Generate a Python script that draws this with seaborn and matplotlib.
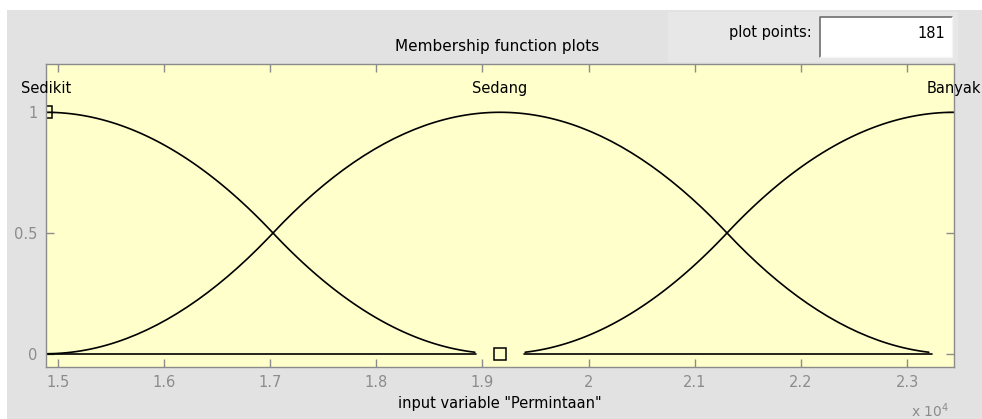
import numpy as np
import pandas as pd
import matplotlib
matplotlib.use("Agg")
import matplotlib.pyplot as plt
from matplotlib.patches import Rectangle
from matplotlib.lines import Line2D
import seaborn as sns

# ---- input variable "Permintaan" ----
var_range = [14890, 23440]
n_points = 181

mf_names = ["Sedikit", "Sedang", "Banyak"]
sedikit_params = [14890, 19165]                 # zmf [a b]
sedang_params = [14890, 19165, 19165, 23440]    # pimf [a b c d]
banyak_params = [19165, 23440]                  # smf [a b]

# portion of the universe over which each curve is traced
sedikit_span = [14890, 18940]
sedang_span = [14890, 23235]
banyak_span = [19390, 23440]

# zero-level segments along the baseline
baseline_spans = [[14890, 18940], [19390, 23235]]

# handles of the selected function (zmf corners)
handle_x = [14890, 19165]
handle_y = [1, 0]

x_ticks = [15000, 16000, 17000, 18000, 19000, 20000, 21000, 22000, 23000]
x_tick_labels = ["1.5", "1.6", "1.7", "1.8", "1.9", "2", "2.1", "2.2", "2.3"]
y_ticks = [0, 0.5, 1]
y_tick_labels = ["0", "0.5", "1"]


def smf(x, a, b):
    y = np.zeros_like(x, dtype=float)
    m = (a + b) / 2
    r1 = (x > a) & (x <= m)
    r2 = (x > m) & (x < b)
    y[r1] = 2 * ((x[r1] - a) / (b - a)) ** 2
    y[r2] = 1 - 2 * ((x[r2] - b) / (b - a)) ** 2
    y[x >= b] = 1
    return y


def zmf(x, a, b):
    return 1 - smf(x, a, b)


def pimf(x, a, b, c, d):
    return np.minimum(smf(x, a, b), zmf(x, c, d))


x = np.linspace(var_range[0], var_range[1], n_points)
curves = {
    "Sedikit": (zmf(x, *sedikit_params), sedikit_span),
    "Sedang": (pimf(x, *sedang_params), sedang_span),
    "Banyak": (smf(x, *banyak_params), banyak_span),
}

frames = []
for name, (y, span) in curves.items():
    keep = (x >= span[0]) & (x <= span[1])
    frames.append(pd.DataFrame({"x": x[keep], "mu": y[keep], "mf": name}))
mf_df = pd.concat(frames, ignore_index=True)

base_df = pd.DataFrame(
    [{"x": s[k], "mu": 0.0, "seg": i} for i, s in enumerate(baseline_spans) for k in (0, 1)]
)

sns.set_theme(style="ticks")
plt.rcParams["font.family"] = ["DejaVu Sans"]

FIG_W, FIG_H = 982, 419
fig = plt.figure(figsize=(FIG_W / 100, FIG_H / 100), dpi=100, facecolor="white")


def add_px_rect(x0, y0, x1, y1, **kw):
    fig.patches.append(Rectangle((x0 / FIG_W, 1 - y1 / FIG_H), (x1 - x0) / FIG_W, (y1 - y0) / FIG_H,
                                 transform=fig.transFigure, **kw))


def add_px_line(xs, ys, **kw):
    fig.lines.append(Line2D([v / FIG_W for v in xs], [1 - v / FIG_H for v in ys],
                            transform=fig.transFigure, **kw))


# window background
add_px_rect(7, 10, FIG_W, FIG_H, facecolor="#e2e2e2", edgecolor="none", zorder=-20)
add_px_rect(668, 12, 958, 62, facecolor="#e7e7e7", edgecolor="none", zorder=-19)
# "plot points" edit box (sunken)
add_px_rect(820, 17, 952, 57, facecolor="white", edgecolor="none", zorder=-18)
add_px_line([820, 820, 952], [57, 17, 17], color="#6e6e6e", linewidth=1.2, zorder=-17)
add_px_line([820, 952, 952], [57, 57, 17], color="#f4f4f4", linewidth=1.0, zorder=-17)

fig.text(945 / FIG_W, 1 - 33 / FIG_H, "181", ha="right", va="center", fontsize=10.5, color="black")
fig.text(812 / FIG_W, 1 - 32 / FIG_H, "plot points:", ha="right", va="center", fontsize=10.5, color="black")
fig.text(497 / FIG_W, 1 - 46 / FIG_H, "Membership function plots", ha="center", va="center",
         fontsize=11, color="black")

ax_l, ax_r, ax_t, ax_b = 46, 954, 64, 367
ax = fig.add_axes([ax_l / FIG_W, 1 - ax_b / FIG_H, (ax_r - ax_l) / FIG_W, (ax_b - ax_t) / FIG_H])
ax.set_facecolor("#ffffcc")

for seg, d in base_df.groupby("seg"):
    sns.lineplot(data=d, x="x", y="mu", ax=ax, color="black", linewidth=1.2,
                 estimator=None, sort=False, legend=False)
for name in mf_names:
    d = mf_df[mf_df["mf"] == name]
    sns.lineplot(data=d, x="x", y="mu", ax=ax, color="black", linewidth=1.2,
                 estimator=None, sort=False, legend=False)

ax.plot(handle_x, handle_y, linestyle="none", marker="s", markersize=8,
        markerfacecolor="none", markeredgecolor="black", markeredgewidth=1.1)

peaks = [var_range[0], sedang_params[1], var_range[1]]
for name, px in zip(mf_names, peaks):
    ax.text(px, 1.1, name, ha="center", va="center", fontsize=10.5, color="black", clip_on=False)

ax.set_xlim(var_range)
ax.set_ylim(-0.055, 1.2)
ax.set_xticks(x_ticks)
ax.set_xticklabels(x_tick_labels)
ax.set_yticks(y_ticks)
ax.set_yticklabels(y_tick_labels)
ax.tick_params(direction="in", length=6, width=1, colors="#8c8c8c", labelsize=10.5,
               top=True, right=True, pad=6)
for sp in ax.spines.values():
    sp.set_color("#8c8c8c")
    sp.set_linewidth(1.0)
    sp.set_visible(True)
ax.set_xlabel('input variable "Permintaan"', fontsize=10.5, color="black", labelpad=4)
ax.set_ylabel("")

# exponent of the x axis
fig.text(930 / FIG_W, 1 - 411 / FIG_H, r"x 10$^{4}$", ha="center", va="center",
         fontsize=10, color="#8c8c8c")

fig.savefig("out.png", dpi=100, facecolor=fig.get_facecolor())
